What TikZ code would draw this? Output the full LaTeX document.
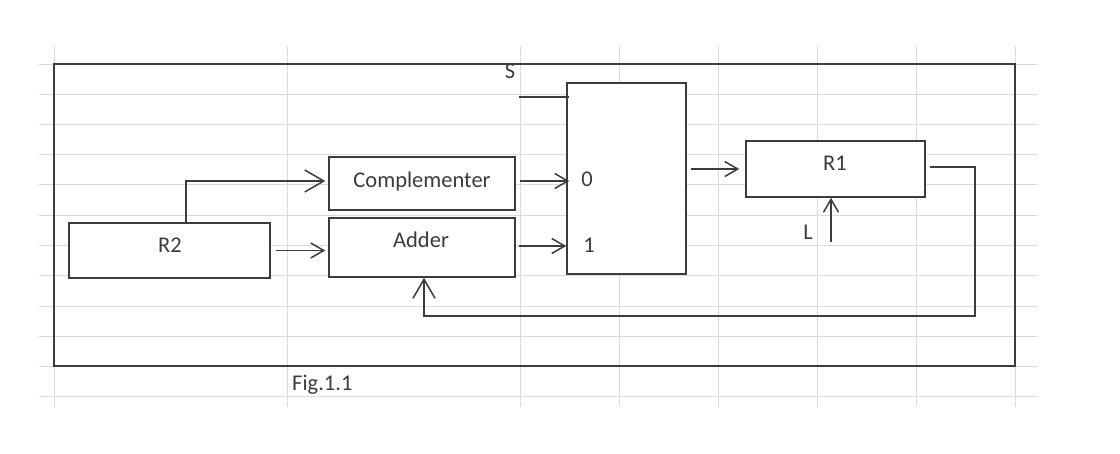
\documentclass[tikz,border=0pt]{standalone}
\usepackage{fontspec}
\setmainfont{Carlito}
\usetikzlibrary{positioning,arrows.meta,calc}
\definecolor{ink}{HTML}{3C3C3C}
\definecolor{gridc}{HTML}{DADADA}
\newcommand{\lblfont}{\fontsize{22.5}{27}\selectfont}

\begin{document}
\begin{tikzpicture}[x=1pt, y=-1pt,
  blk/.style={draw=ink, fill=white, line width=1.5pt, inner sep=0pt},
  txt/.style={font=\lblfont, text=ink, inner sep=0pt, anchor=base},
  arr/.style={-{Straight Barb[length=13pt, width=15pt]}, draw=ink, line width=1.5pt},
  bigarr/.style={arr, -{Straight Barb[length=19pt, width=22pt]}},
  wire/.style={draw=ink, line width=1.5pt},
  gridline/.style={draw=gridc, line width=1pt}
]
\useasboundingbox (0,0) rectangle (1120,453);
% spreadsheet grid
\foreach \gx in {54,287,520,619,718,817,916,1015}
  \draw[gridline] (\gx,46) -- (\gx,407);
\foreach \gy in {64,94,124,154,184,215,245,275,306,336,366,396}
  \draw[gridline] (39,\gy) -- (1038,\gy);
% frame
\draw[wire] (54,64) rectangle (1015,366);
% blocks
\node[blk, minimum width=201pt, minimum height=55pt] (r2) at (169.5,250.5) {};
\node[blk, minimum width=186pt, minimum height=53pt] (compl) at (422,183.5) {};
\node[blk, minimum width=186pt, minimum height=59pt] (adder) at (422,247.5) {};
\node[blk, minimum width=119pt, minimum height=191pt] (mux) at (626.5,178.5) {};
\node[blk, minimum width=179pt, minimum height=56pt] (r1) at (835.5,169) {};
% labels
\node[txt] (r2lbl) at (170,252) {R2};
\node[txt] (compllbl) at (422,187) {Complementer};
\node[txt] (adderlbl) at (421,247) {Adder};
\node[txt] (r1lbl) at (835,170) {R1};
\node[txt] (slbl) at (510,78) {S};
\node[txt] (zerolbl) at (587,186) {0};
\node[txt] (onelbl) at (589,252) {1};
\node[txt] (llbl) at (808,239) {L};
\node[txt, anchor=base west] (figlbl) at (292,390) {Fig.1.1};
% inputs and feedback corner
\coordinate (sin) at (519,97);
\coordinate (lin) at (831,242);
\coordinate (fbturn) at (975,316);
% connectors
\draw[wire] (sin) -- ([xshift=3pt]sin -| mux.west);
\draw[bigarr] ([xshift=16.5pt]r2.north) |- ([yshift=2.5pt,xshift=-3pt]compl.west);
\draw[arr] ([xshift=5pt]r2.east) -- ([xshift=-3pt]r2.east -| adder.west);
\draw[arr] ([xshift=4pt,yshift=2.5pt]compl.east) -- ([yshift=2.5pt,xshift=3pt]compl.east -| mux.west);
\draw[arr] ([xshift=3pt,yshift=1.5pt]adder.east) -- ([yshift=1.5pt]adder.east -| mux.west);
\draw[arr] ([xshift=4pt]mux.east |- r1.west) -- ([xshift=-6pt]r1.west);
\draw[arr] (lin) -- (lin |- r1.south);
\draw[bigarr] ([xshift=4pt,yshift=2pt]r1.east) -| (fbturn) -| ([xshift=2pt]adder.south);
\end{tikzpicture}
\end{document}
